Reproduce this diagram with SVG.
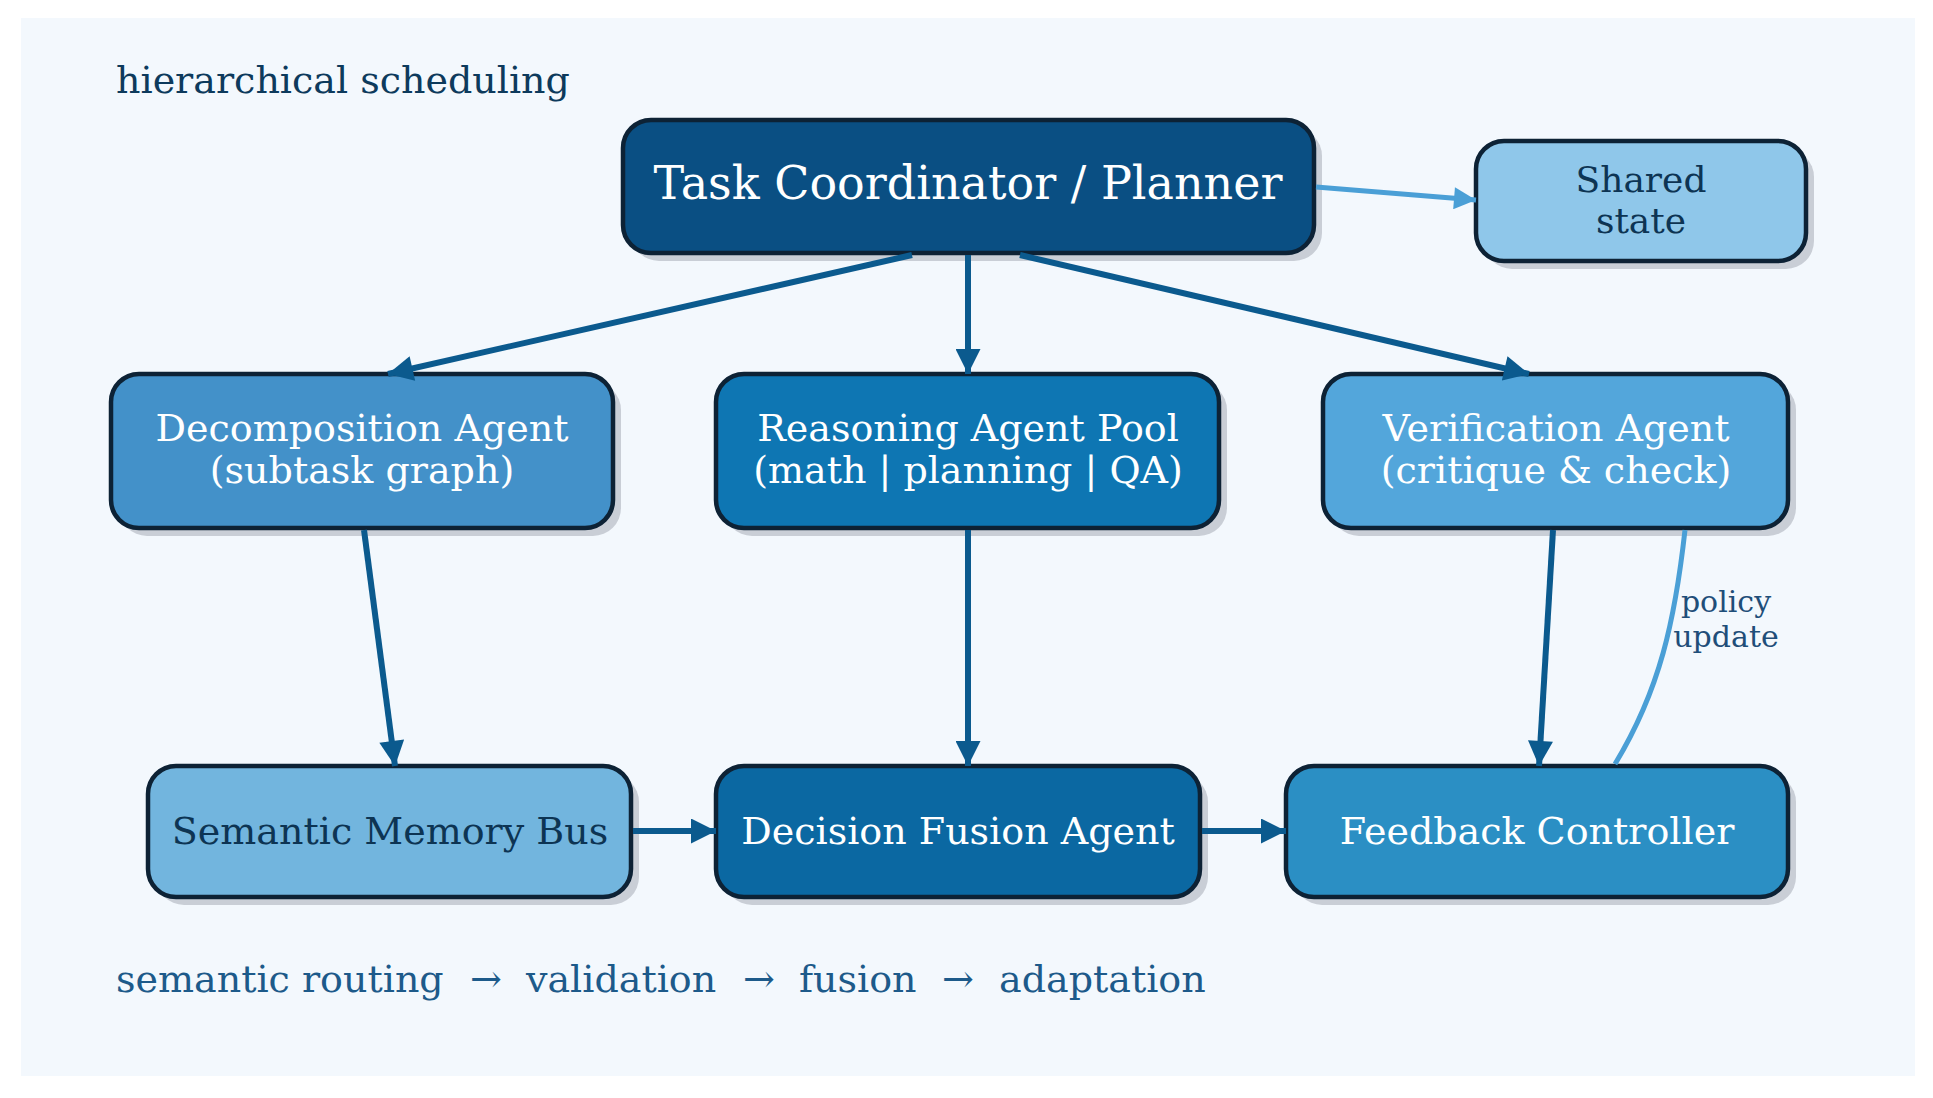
<svg xmlns="http://www.w3.org/2000/svg" width="1933" height="1098" viewBox="0 0 1933 1098">
<defs>
<marker id="ad" viewBox="0 0 10 10" refX="10" refY="5" markerWidth="26" markerHeight="25" markerUnits="userSpaceOnUse" orient="auto"><path d="M0,0 L10,5 L0,10 z" fill="#0b5a8e"/></marker>
<marker id="al" viewBox="0 0 10 10" refX="10" refY="5" markerWidth="24" markerHeight="22" markerUnits="userSpaceOnUse" orient="auto"><path d="M0,0 L10,5 L0,10 z" fill="#4a9fd6"/></marker>
</defs>
<style>
.sh{fill:#c9ced6}
.box{stroke:#0d2235;stroke-width:4.5}
.t{font-family:"DejaVu Serif",serif;text-anchor:middle}
.w{fill:#ffffff}
.d{fill:#0d3453}
.e{fill:none;stroke:#0b5a8e;stroke-width:6}
.el{fill:none;stroke:#4a9fd6;stroke-width:5}
.ft{font-family:"DejaVu Serif",serif;font-size:38px;fill:#1d5a8a}
</style>
<rect x="0" y="0" width="1933" height="1098" fill="#ffffff"/>
<rect x="21" y="18" width="1894" height="1058" fill="#f3f8fd"/>
<text x="116" y="93" style="font-family:'DejaVu Serif',serif;font-size:38px;fill:#0d3a5c">hierarchical scheduling</text>
<g id="footer">
<text class="ft" x="116" y="992">semantic routing</text>
<text class="ft" x="470" y="992">→</text>
<text class="ft" x="526" y="992">validation</text>
<text class="ft" x="743" y="992">→</text>
<text class="ft" x="799" y="992">fusion</text>
<text class="ft" x="942" y="992">→</text>
<text class="ft" x="999" y="992">adaptation</text>
</g>

<g id="task">
<rect class="sh" x="631" y="128" width="691" height="133" rx="28"/>
<rect class="box" x="623" y="120" width="691" height="133" rx="28" fill="#0a4f83"/>
<text class="t w" x="968" y="199" style="font-size:46px">Task Coordinator / Planner</text>
</g>
<g id="shared">
<rect class="sh" x="1484" y="149" width="330" height="120" rx="28"/>
<rect class="box" x="1476" y="141" width="330" height="120" rx="28" fill="#8fc7ea"/>
<text class="t d" x="1641" y="192" style="font-size:36px">Shared</text>
<text class="t d" x="1641" y="233" style="font-size:36px">state</text>
</g>
<g id="decomp">
<rect class="sh" x="119" y="382" width="502" height="154" rx="28"/>
<rect class="box" x="111" y="374" width="502" height="154" rx="28" fill="#4391c9"/>
<text class="t w" x="362" y="441" style="font-size:38px">Decomposition Agent</text>
<text class="t w" x="362" y="483" style="font-size:38px">(subtask graph)</text>
</g>
<g id="reasoning">
<rect class="sh" x="724" y="382" width="503" height="154" rx="28"/>
<rect class="box" x="716" y="374" width="503" height="154" rx="28" fill="#0e76b3"/>
<text class="t w" x="968" y="441" style="font-size:38px">Reasoning Agent Pool</text>
<text class="t w" x="968" y="483" style="font-size:38px">(math | planning | QA)</text>
</g>
<g id="verification">
<rect class="sh" x="1331" y="382" width="465" height="154" rx="28"/>
<rect class="box" x="1323" y="374" width="465" height="154" rx="28" fill="#53a6db"/>
<text class="t w" x="1556" y="441" style="font-size:38px">Verification Agent</text>
<text class="t w" x="1556" y="483" style="font-size:38px">(critique &amp; check)</text>
</g>
<g id="semantic">
<rect class="sh" x="156" y="774" width="483" height="131" rx="28"/>
<rect class="box" x="148" y="766" width="483" height="131" rx="28" fill="#72b5de"/>
<text class="t d" x="390" y="844" style="font-size:38px">Semantic Memory Bus</text>
</g>
<g id="fusion">
<rect class="sh" x="724" y="774" width="484" height="131" rx="28"/>
<rect class="box" x="716" y="766" width="484" height="131" rx="28" fill="#0b68a2"/>
<text class="t w" x="958" y="844" style="font-size:38px">Decision Fusion Agent</text>
</g>
<g id="feedback">
<rect class="sh" x="1294" y="774" width="502" height="131" rx="28"/>
<rect class="box" x="1286" y="766" width="502" height="131" rx="28" fill="#2b8fc4"/>
<text class="t w" x="1537" y="844" style="font-size:38px">Feedback Controller</text>
</g>

<g id="connectors">
<path class="el" d="M1316,187 L1476,200" marker-end="url(#al)"/>
<path class="e" d="M912,255 L388,374" marker-end="url(#ad)"/>
<path class="e" d="M968,255 L968,374" marker-end="url(#ad)"/>
<path class="e" d="M1020,255 L1529,374" marker-end="url(#ad)"/>
<path class="e" d="M364,530 L395,766" marker-end="url(#ad)"/>
<path class="e" d="M968,530 L968,766" marker-end="url(#ad)"/>
<path class="e" d="M1553,530 L1539,766" marker-end="url(#ad)"/>
<path class="e" d="M633,831 L716,831" marker-end="url(#ad)"/>
<path class="e" d="M1202,831 L1286,831" marker-end="url(#ad)"/>
<path class="el" d="M1685,530 C1675,620 1660,690 1615,764"/>
<text x="1726" y="612" class="t" style="font-size:30px;fill:#1f4e79">policy</text>
<text x="1726" y="647" class="t" style="font-size:30px;fill:#1f4e79">update</text>
</g>
</svg>
